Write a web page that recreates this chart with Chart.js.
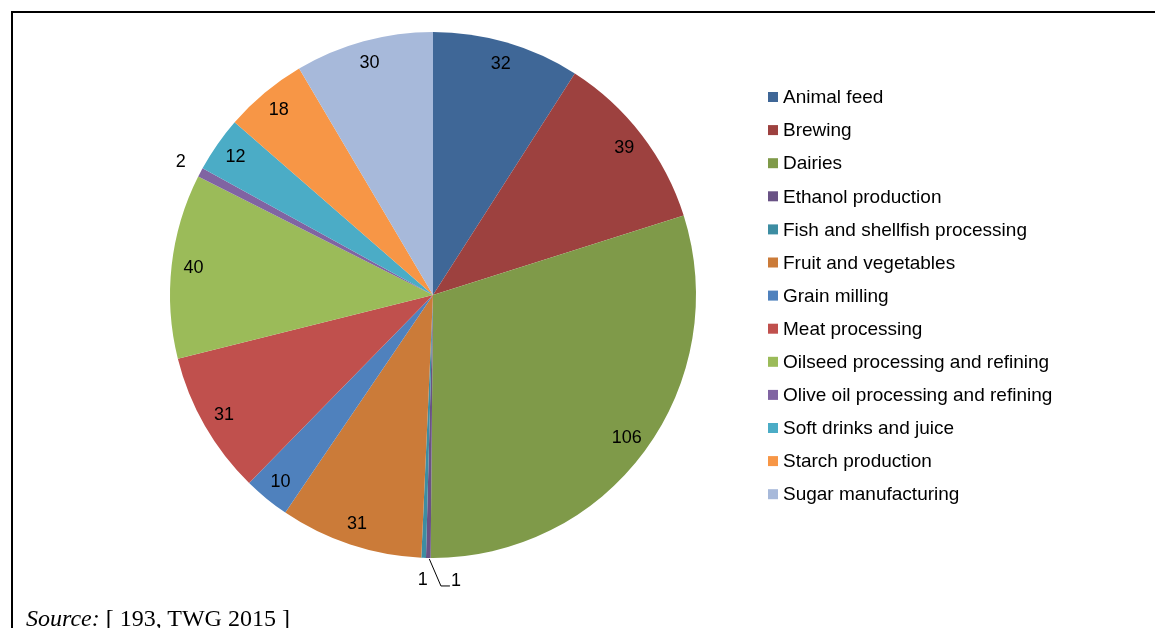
<!DOCTYPE html>
<html>
<head>
<meta charset="utf-8">
<script src="https://cdn.jsdelivr.net/npm/chart.js@4/dist/chart.umd.min.js"></script>
<style>
  html, body { margin: 0; padding: 0; background: #fff; }
  #wrap { position: relative; width: 1155px; height: 628px; overflow: hidden; }
  #frame { position: absolute; left: 11px; top: 11px; right: 0; bottom: 0;
           border-top: 2px solid #000; border-left: 2px solid #000; }
  #source { position: absolute; left: 26px; top: 606px; font-family: "Liberation Serif", "Times New Roman", serif;
            font-size: 24px; line-height: 24px; color: #000; white-space: nowrap; }
  canvas { position: absolute; left: 0; top: 0; }
</style>
</head>
<body>
<div id="wrap">
  <div id="frame"></div>
  <canvas id="pie" width="1155" height="628"></canvas>
  <div id="source"><i>Source:</i> [ 193, TWG 2015 ]</div>
</div>
<script>
(function(window, undefined){

  var sectors = ['Animal feed', 'Brewing', 'Dairies', 'Ethanol production', 'Fish and shellfish processing',
    'Fruit and vegetables', 'Grain milling', 'Meat processing', 'Oilseed processing and refining',
    'Olive oil processing and refining', 'Soft drinks and juice', 'Starch production', 'Sugar manufacturing'];
  var counts = [32, 39, 106, 1, 1, 31, 10, 31, 40, 2, 12, 18, 30];
  var colours = ['#3F6797', '#9D413F', '#7F9A49', '#695285', '#3D8DA2', '#CB7B39',
    '#4F81BD', '#C0504D', '#9BBB59', '#8064A2', '#4BACC6', '#F79646', '#A7B9DA'];

  var labelFont = '18px "Liberation Sans", Arial, sans-serif';
  var legendFont = '19px "Liberation Sans", Arial, sans-serif';

  // values, legend drawn straight onto the canvas
  var piePainter = {
    id: 'piePainter',
    afterDatasetsDraw: function (chart) {
      var ctx = chart.ctx;
      var arcs = chart.getDatasetMeta(0).data;
      var total = counts.reduce(function (a, b) { return a + b; }, 0);
      ctx.save();
      ctx.font = labelFont;
      ctx.fillStyle = '#000';
      ctx.textAlign = 'center';
      ctx.textBaseline = 'middle';
      arcs.forEach(function (arc, i) {
        var p = arc.getProps(['x', 'y', 'startAngle', 'endAngle', 'outerRadius'], true);
        var mid = (p.startAngle + p.endAngle) / 2;
        var share = counts[i] / total;
        var r = share < 0.01 ? p.outerRadius + 22 : p.outerRadius - 22;
        var lx = p.x + Math.cos(mid) * r;
        var ly = p.y + Math.sin(mid) * r;
        if (i === 3) {
          // pushed aside with a leader line, as the tiny neighbours collide
          var ex = p.x + Math.cos(mid) * p.outerRadius;
          var ey = p.y + Math.sin(mid) * p.outerRadius;
          lx += 28; ly += 1;
          ctx.beginPath();
          ctx.strokeStyle = '#000';
          ctx.lineWidth = 1;
          ctx.moveTo(ex + 1, ey + 1);
          ctx.lineTo(lx - 15, ly + 5);
          ctx.lineTo(lx - 6, ly + 5);
          ctx.stroke();
        }
        ctx.fillText(String(counts[i]), lx, ly);
      });

      // legend
      ctx.font = legendFont;
      ctx.textAlign = 'left';
      var lx0 = 768, ly0 = 97, step = 33.1;
      sectors.forEach(function (name, i) {
        var y = ly0 + i * step;
        ctx.fillStyle = colours[i];
        ctx.fillRect(lx0, y - 5, 10, 10);
        ctx.fillStyle = '#000';
        ctx.fillText(name, lx0 + 15, y + 1);
      });
      ctx.restore();
    }
  };

  function createChartInDom () {
    var data = {
      labels: sectors,
      datasets: [{
        data: counts,
        backgroundColor: colours,
        borderWidth: 0
      }]
    };

    var options = {
      responsive: false,
      animation: false,
      layout: { padding: { left: 170, right: 459, top: 32, bottom: 70 } },
      plugins: {
        legend: { display: false },
        tooltip: { enabled: false }
      }
    };

    new Chart(document.getElementById('pie'), {
      type: 'pie', data: data, options: options, plugins: [piePainter]
    });
  }

  createChartInDom();

})(window);
</script>
</body>
</html>
